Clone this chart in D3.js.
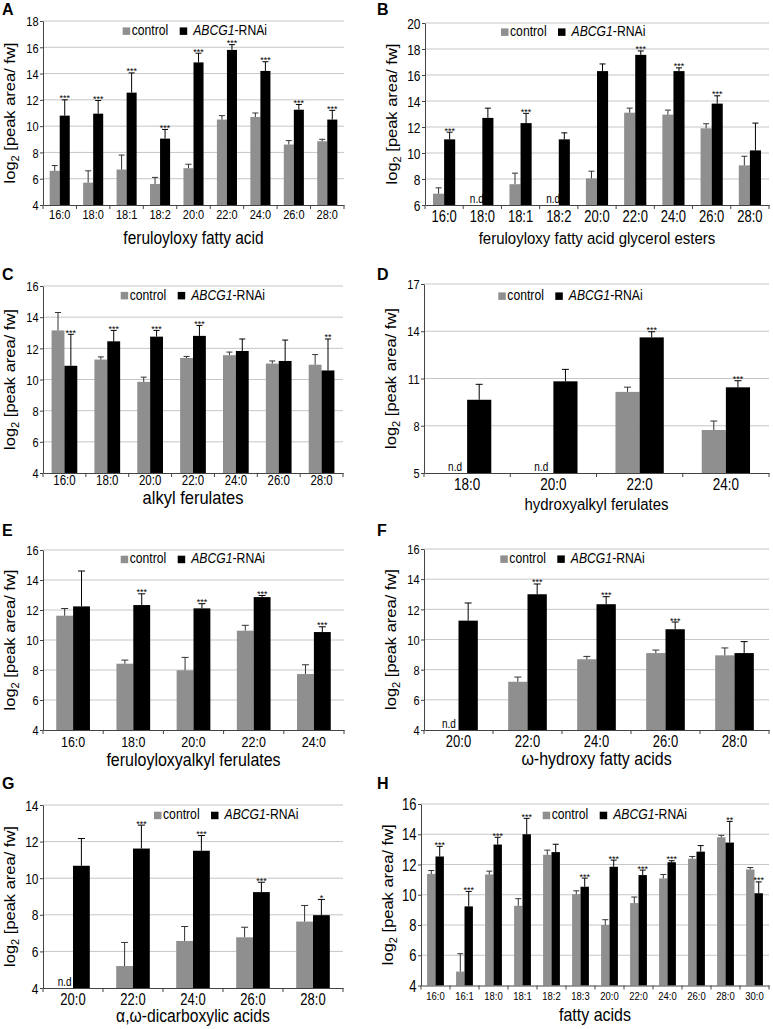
<!DOCTYPE html>
<html><head><meta charset="utf-8">
<script src="https://cdn.jsdelivr.net/npm/d3@7"></script>
<style>body{margin:0;background:#fff}svg{display:block}</style>
</head><body>
<script>
// ---------- DATA ----------
const catsA = ["16:0","18:0","18:1","18:2","20:0","22:0","24:0","26:0","28:0"];
const ctrlA = [6.6,5.7,6.7,5.6,6.8,10.5,10.7,8.6,8.85];
const ctrlErrA = [0.4,0.9,1.1,0.5,0.3,0.3,0.3,0.3,0.15];
const rnaiA = [10.8,10.95,12.55,9.05,14.85,15.8,14.2,11.25,10.5];
const rnaiErrA = [1.2,1.0,1.5,0.7,0.7,0.4,0.7,0.4,0.7];
const sigA = ["***","***","***","***","***","***","***","***","***"];
const ticksA = [4,6,8,10,12,14,16,18];

const catsB = ["16:0","18:0","18:1","18:2","20:0","22:0","24:0","26:0","28:0"];
const ctrlB = [6.87,null,7.6,null,8.05,13.1,12.95,11.9,9.05];
const ctrlErrB = [0.45,null,0.85,null,0.55,0.35,0.35,0.35,0.7];
const rnaiB = [11.05,12.7,12.3,11.05,16.3,17.55,16.3,13.8,10.2];
const rnaiErrB = [0.55,0.75,0.75,0.5,0.55,0.3,0.25,0.6,2.1];
const sigB = ["***","","***","","","***","***","***",""];
const ticksB = [6,8,10,12,14,16,18,20];

const catsC = ["16:0","18:0","20:0","22:0","24:0","26:0","28:0"];
const ctrlC = [13.15,11.28,9.85,11.38,11.56,11.02,10.95];
const ctrlErrC = [1.15,0.17,0.3,0.1,0.2,0.17,0.65];
const rnaiC = [10.88,12.45,12.75,12.8,11.83,11.19,10.58];
const rnaiErrC = [2.02,0.7,0.4,0.67,0.77,1.34,2.02];
const sigC = ["***","***","***","***","","","**"];
const ticksC = [4,6,8,10,12,14,16];

const catsD = ["18:0","20:0","22:0","24:0"];
const ctrlD = [null,null,10.15,7.73];
const ctrlErrD = [null,null,0.3,0.57];
const rnaiD = [9.65,10.82,13.61,10.44];
const rnaiErrD = [0.98,0.76,0.36,0.42];
const sigD = ["","","***","***"];
const ticksD = [5,8,11,14,17];

const catsE = ["16:0","18:0","20:0","22:0","24:0"];
const ctrlE = [11.62,8.42,7.98,10.62,7.73];
const ctrlErrE = [0.48,0.24,0.86,0.36,0.62];
const rnaiE = [12.24,12.33,12.11,12.86,10.53];
const rnaiErrE = [2.36,0.75,0.31,0.11,0.35];
const sigE = ["","***","***","***","***"];
const ticksE = [4,6,8,10,12,14,16];

const catsF = ["20:0","22:0","24:0","26:0","28:0"];
const ctrlF = [null,7.2,8.69,9.1,8.95];
const ctrlErrF = [null,0.31,0.19,0.2,0.49];
const rnaiF = [11.25,13.0,12.34,10.68,9.1];
const rnaiErrF = [1.17,0.68,0.5,0.48,0.76];
const sigF = ["","***","***","***",""];
const ticksF = [4,6,8,10,12,14,16];

const catsG = ["20:0","22:0","24:0","26:0","28:0"];
const ctrlG = [null,5.2,6.57,6.77,7.63];
const ctrlErrG = [null,1.29,0.79,0.55,0.88];
const rnaiG = [10.68,11.62,11.5,9.24,7.98];
const rnaiErrG = [1.49,1.28,0.83,0.54,0.86];
const sigG = ["","***","***","***","*"];
const ticksG = [4,6,8,10,12,14];

const catsH = ["16:0","16:1","18:0","18:1","18:2","18:3","20:0","22:0","24:0","26:0","28:0","30:0"];
const ctrlH = [11.38,4.92,11.34,9.27,12.64,10.04,8.0,9.45,11.08,12.38,13.8,11.67];
const ctrlErrH = [0.22,1.18,0.22,0.47,0.31,0.22,0.35,0.4,0.26,0.15,0.13,0.13];
const rnaiH = [12.53,9.23,13.32,14.0,12.82,10.53,11.85,11.3,12.15,12.85,13.45,10.1];
const rnaiErrH = [0.67,0.99,0.48,1.05,0.52,0.57,0.44,0.33,0.1,0.4,1.4,0.75];
const sigH = ["***","***","***","***","","***","***","***","***","","**","***"];
const ticksH = [4,6,8,10,12,14,16];

const titles = ["feruloyloxy fatty acid","feruloyloxy fatty acid glycerol esters","alkyl ferulates",
  "hydroxyalkyl ferulates","feruloyloxyalkyl ferulates","ω-hydroxy fatty acids",
  "α,ω-dicarboxylic acids","fatty acids"];
const letters = ["A","B","C","D","E","F","G","H"];

// ---------- LAYOUT ----------
const layouts = [
 {x0:43,x1:344,top:21,bot:205,frac:0.3,yTF:11,xTF:11,xTY:14,tF:15.5,tY:244,lgX:122.7,lgY:35,ltX:2,ltY:14.5},
 {x0:425,x1:769,top:23,bot:205,frac:0.29,yTF:12,xTF:13,xTY:17,tF:15,tY:244,lgX:501,lgY:36,ltX:377,ltY:14.5},
 {x0:43,x1:343,top:286,bot:473,frac:0.3,yTF:11,xTF:11.5,xTY:12,tF:16.5,tY:504,lgX:120.7,lgY:299.5,ltX:2,ltY:280},
 {x0:424,x1:769,top:284,bot:473,frac:0.28,yTF:11,xTF:13.5,xTY:16.5,tF:15,tY:510,lgX:498.3,lgY:300,ltX:377,ltY:280},
 {x0:43,x1:344,top:550,bot:730,frac:0.28,yTF:11,xTF:12.5,xTY:17,tF:16,tY:766,lgX:120.7,lgY:563.3,ltX:2,ltY:536},
 {x0:424,x1:769,top:549,bot:730,frac:0.28,yTF:11,xTF:13,xTY:16.5,tF:16,tY:765,lgX:500.3,lgY:563,ltX:377,ltY:536},
 {x0:43,x1:343,top:805,bot:988,frac:0.28,yTF:12,xTF:13,xTY:16.5,tF:15.7,tY:1022,lgX:154,lgY:819.3,ltX:2,ltY:789},
 {x0:421,x1:769,top:804,bot:985.5,frac:0.29,yTF:13,xTF:9.5,xTY:14,tF:16,tY:1021,lgX:542.7,lgY:819.3,ltX:377,ltY:789}
];

const panels = [
 {cats:catsA,ctrl:ctrlA,ctrlErr:ctrlErrA,rnai:rnaiA,rnaiErr:rnaiErrA,sig:sigA,ticks:ticksA},
 {cats:catsB,ctrl:ctrlB,ctrlErr:ctrlErrB,rnai:rnaiB,rnaiErr:rnaiErrB,sig:sigB,ticks:ticksB},
 {cats:catsC,ctrl:ctrlC,ctrlErr:ctrlErrC,rnai:rnaiC,rnaiErr:rnaiErrC,sig:sigC,ticks:ticksC},
 {cats:catsD,ctrl:ctrlD,ctrlErr:ctrlErrD,rnai:rnaiD,rnaiErr:rnaiErrD,sig:sigD,ticks:ticksD},
 {cats:catsE,ctrl:ctrlE,ctrlErr:ctrlErrE,rnai:rnaiE,rnaiErr:rnaiErrE,sig:sigE,ticks:ticksE},
 {cats:catsF,ctrl:ctrlF,ctrlErr:ctrlErrF,rnai:rnaiF,rnaiErr:rnaiErrF,sig:sigF,ticks:ticksF},
 {cats:catsG,ctrl:ctrlG,ctrlErr:ctrlErrG,rnai:rnaiG,rnaiErr:rnaiErrG,sig:sigG,ticks:ticksG},
 {cats:catsH,ctrl:ctrlH,ctrlErr:ctrlErrH,rnai:rnaiH,rnaiErr:rnaiErrH,sig:sigH,ticks:ticksH}
];

const FF = '"Liberation Sans", Arial, Helvetica, sans-serif';
const SY = 1.2, SYT = 1.15;
const GRAY = "#8f8f8f", BLACK = "#000", GRID = "#c6c6c6", AXIS = "#444";

const svg = d3.select("body").append("svg").attr("width",773).attr("height",1029)
  .attr("font-family",FF);
svg.append("rect").attr("width",773).attr("height",1029).attr("fill","#fff");

function txt(g, x, y, s, size, anchor, sy, extra) {
  const t = g.append("text").attr("transform",`translate(${x},${y}) scale(1,${sy||SY})`)
    .attr("font-size",size).attr("text-anchor",anchor||"start").attr("fill","#000").text(s);
  if (extra) extra(t);
  return t;
}

panels.forEach((p, pi) => {
  const L = layouts[pi];
  const g = svg.append("g");
  const x = d3.scaleBand().domain(p.cats).range([L.x0, L.x1]);
  const y = d3.scaleLinear().domain([p.ticks[0], p.ticks[p.ticks.length-1]]).range([L.bot, L.top]);
  const bw = x.bandwidth() * L.frac;
  const ch = bw > 14 ? 3.5 : 3;

  // gridlines
  g.append("g").selectAll("line").data(p.ticks.slice(1)).join("line")
    .attr("x1",L.x0).attr("x2",L.x1).attr("y1",d=>y(d)).attr("y2",d=>y(d))
    .attr("stroke",GRID).attr("stroke-width",1);

  const rows = p.cats.map((c,i)=>({c, ctrl:p.ctrl[i], ce:p.ctrlErr[i], rnai:p.rnai[i], re:p.rnaiErr[i], sig:p.sig[i]}));
  const cx = d => x(d.c) + x.bandwidth()/2;

  // control bars
  g.append("g").selectAll("rect").data(rows.filter(d=>d.ctrl!=null)).join("rect")
    .attr("x",d=>cx(d)-bw).attr("width",bw).attr("y",d=>y(d.ctrl)).attr("height",d=>y(p.ticks[0])-y(d.ctrl))
    .attr("fill",GRAY);
  // rnai bars
  g.append("g").selectAll("rect").data(rows).join("rect")
    .attr("x",d=>cx(d)).attr("width",bw).attr("y",d=>y(d.rnai)).attr("height",d=>y(p.ticks[0])-y(d.rnai))
    .attr("fill",BLACK);

  // error bars
  const eb = [];
  rows.forEach(d=>{
    if (d.ctrl!=null) eb.push({x:cx(d)-bw/2, v:d.ctrl, e:d.ce, col:"#333"});
    eb.push({x:cx(d)+bw/2, v:d.rnai, e:d.re, col:"#000"});
  });
  const ebg = g.append("g");
  ebg.selectAll("line.v").data(eb).join("line").attr("class","v")
    .attr("x1",d=>d.x).attr("x2",d=>d.x).attr("y1",d=>y(d.v)).attr("y2",d=>y(d.v+d.e))
    .attr("stroke",d=>d.col).attr("stroke-width",1);
  ebg.selectAll("line.c").data(eb).join("line").attr("class","c")
    .attr("x1",d=>d.x-ch).attr("x2",d=>d.x+ch).attr("y1",d=>y(d.v+d.e)).attr("y2",d=>y(d.v+d.e))
    .attr("stroke",d=>d.col).attr("stroke-width",1);

  // significance stars
  rows.filter(d=>d.sig).forEach(d=>{
    txt(g, cx(d)+bw/2, y(d.rnai+d.re)+1.5, d.sig, 9, "middle", 1.1);
  });
  // n.d labels
  rows.filter(d=>d.ctrl==null).forEach(d=>{
    txt(g, cx(d)-bw/2, L.bot-2, "n.d", 10, "middle");
  });

  // y axis
  const ya = g.append("g").attr("transform",`translate(${L.x0},0)`)
    .call(d3.axisLeft(y).tickValues(p.ticks).tickSize(3).tickSizeOuter(0))
    .attr("font-family",FF).attr("font-size",L.yTF);
  ya.select(".domain").attr("stroke",AXIS);
  ya.selectAll(".tick line").attr("stroke",AXIS);
  ya.selectAll(".tick text").attr("x",0).attr("y",0).attr("dy",0).attr("fill","#000")
    .attr("transform",`translate(-4.5,${(L.yTF*0.358*SY).toFixed(2)}) scale(1,${SY})`);

  // x axis
  const xa = g.append("g").attr("transform",`translate(0,${L.bot})`)
    .call(d3.axisBottom(x).tickSize(0).tickSizeOuter(0))
    .attr("font-family",FF).attr("font-size",L.xTF);
  xa.select(".domain").attr("stroke",AXIS);
  xa.selectAll(".tick text").attr("y",0).attr("dy",0).attr("fill","#000")
    .attr("transform",`translate(0,${L.xTY}) scale(1,${SY})`);
  // boundary ticks
  const bounds = p.cats.map(c=>x(c)).concat([x(p.cats[p.cats.length-1])+x.bandwidth()]);
  g.append("g").selectAll("line").data(bounds).join("line")
    .attr("x1",d=>d).attr("x2",d=>d).attr("y1",L.bot).attr("y2",L.bot+4)
    .attr("stroke",AXIS);

  // y title
  const yt = g.append("text")
    .attr("transform",`translate(${L.x0-28},${(L.top+L.bot)/2}) rotate(-90) scale(1.1,1)`)
    .attr("font-size",15).attr("text-anchor","middle").attr("fill","#000");
  yt.append("tspan").text("log");
  yt.append("tspan").attr("font-size",10).attr("dy",4).text("2");
  yt.append("tspan").attr("dy",-4).text(" [peak area/ fw]");

  // x title
  txt(g, (L.x0+L.x1)/2, L.tY, titles[pi], L.tF, "middle", SYT);

  // legend
  g.append("rect").attr("x",L.lgX).attr("y",L.lgY-7.6).attr("width",7.5).attr("height",7.5).attr("fill",GRAY);
  txt(g, L.lgX+9, L.lgY, "control", 12.2, "start");
  g.append("rect").attr("x",L.lgX+57).attr("y",L.lgY-7.6).attr("width",7.5).attr("height",7.5).attr("fill",BLACK);
  txt(g, L.lgX+70.5, L.lgY, "", 12.2, "start", SY, t=>{
    t.append("tspan").attr("font-style","italic").text("ABCG1");
    t.append("tspan").text("-RNAi");
  });

  // panel letter
  g.append("text").attr("x",L.ltX).attr("y",L.ltY).attr("font-size",16).attr("font-weight","bold")
    .attr("fill","#000").text(letters[pi]);
});
</script>
</body></html>
